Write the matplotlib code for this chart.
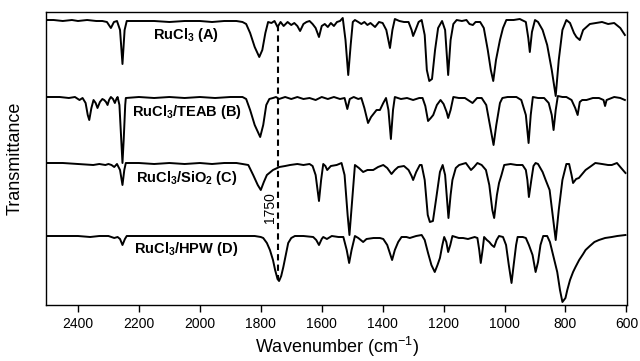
import matplotlib
matplotlib.use("Agg")
import matplotlib.pyplot as plt
import numpy as np

plt.rcParams['font.family'] = ['Liberation Sans', 'DejaVu Sans']
plt.rcParams['mathtext.fontset'] = 'custom'
plt.rcParams['mathtext.rm'] = 'Liberation Sans'
plt.rcParams['mathtext.bf'] = 'Liberation Sans:bold'
plt.rcParams['mathtext.default'] = 'regular'

# Spectra: wavenumber (cm-1) and vertical trace position (larger = lower on chart)
a_wn = [2505, 2480, 2450, 2420, 2400, 2370, 2340, 2320, 2305, 2292, 2282, 2272, 2262, 2254, 2247, 2240,
        2200, 2150, 2100, 2050, 2000, 1960, 1920, 1880, 1860, 1848, 1835, 1820, 1805, 1795, 1785, 1776,
        1765, 1755, 1745, 1735, 1725, 1712, 1700, 1690, 1680, 1671, 1660, 1650, 1640, 1630, 1620, 1609,
        1600, 1590, 1580, 1570, 1560, 1550, 1540, 1531, 1522, 1513, 1505, 1498, 1491, 1480, 1470, 1460,
        1450, 1440, 1425, 1412, 1400, 1388, 1376, 1368, 1360, 1345, 1330, 1315, 1305, 1300, 1292, 1282,
        1272, 1262, 1255, 1247, 1238, 1228, 1218, 1205, 1195, 1185, 1177, 1168, 1157, 1140, 1125, 1115,
        1104, 1095, 1080, 1068, 1055, 1045, 1037, 1028, 1015, 1005, 994, 970, 950, 930, 922, 917, 910,
        900, 890, 875, 860, 845, 832, 822, 810, 797, 785, 772, 764, 753, 742, 731, 720, 700, 680, 660,
        640, 620, 605]
a_y = [20, 20, 21, 20, 21, 20, 21, 21, 22, 28, 22, 21, 30, 64, 30, 21,
       21, 21, 22, 21, 21, 22, 21, 21, 22, 24, 33, 47, 57, 50, 33, 22,
       23, 21, 27, 22, 26, 22, 25, 23, 26, 31, 24, 22, 21, 24, 28, 37,
       26, 24, 27, 23, 26, 22, 21, 18, 40, 75, 45, 22, 20, 22, 24, 22,
       25, 23, 27, 22, 23, 30, 48, 30, 19, 21, 22, 22, 30, 36, 30, 22,
       20, 35, 70, 81, 79, 50, 28, 21, 30, 75, 40, 24, 20, 21, 20, 24,
       25, 22, 22, 28, 50, 70, 81, 60, 40, 28, 20, 20, 19, 22, 38, 52, 32,
       20, 22, 30, 45, 70, 96, 60, 30, 20, 23, 33, 37, 40, 30, 27, 24, 23, 22, 24,
       23, 28, 35]

b_wn = [2505, 2460, 2430, 2410, 2395, 2385, 2375, 2368, 2363, 2356, 2349, 2342, 2336, 2328, 2320, 2314,
        2308, 2303, 2298, 2292, 2285, 2279, 2274, 2270, 2264, 2258, 2254, 2250, 2245, 2243, 2200, 2150,
        2100, 2050, 2000, 1950, 1900, 1860, 1848, 1835, 1820, 1802, 1792, 1782, 1772, 1760, 1750, 1740,
        1720, 1700, 1680, 1660, 1640, 1620, 1600, 1580, 1560, 1540, 1525, 1516, 1508, 1495, 1480, 1470,
        1460, 1448, 1438, 1420, 1409, 1398, 1389, 1381, 1373, 1366, 1360, 1340, 1320, 1300, 1280, 1269,
        1260, 1251, 1242, 1234, 1222, 1210, 1200, 1190, 1185, 1177, 1168, 1150, 1130, 1115, 1105, 1090,
        1075, 1060, 1045, 1036, 1027, 1015, 1007, 990, 961, 945, 930, 921, 914, 907, 890, 870, 855, 845,
        839, 832, 825, 810, 797, 780, 768, 760, 753, 745, 731, 710, 690, 675, 670, 665, 640, 620, 605]
b_y = [97, 97, 98, 97, 100, 98, 103, 115, 120, 108, 100, 103, 108, 102, 99, 100,
       102, 105, 100, 97, 99, 103, 99, 97, 105, 140, 163, 140, 105, 98, 97, 98,
       97, 98, 97, 98, 97, 97, 99, 110, 125, 137, 125, 105, 99, 98, 97, 99,
       97, 99, 97, 99, 98, 100, 97, 99, 97, 99, 98, 109, 99, 97, 99, 98,
       108, 123, 117, 110, 110, 103, 98, 110, 139, 110, 97, 99, 98, 100, 98, 98,
       106, 121, 118, 115, 105, 100, 104, 112, 118, 110, 97, 98, 98, 101, 103, 98,
       98, 105, 130, 145, 125, 103, 98, 97, 97, 100, 115, 143, 115, 97, 98, 98, 103, 115,
       130, 110, 96, 97, 97, 100, 108, 115, 102, 100, 100, 98, 98, 100, 106, 100, 97, 98, 100]

c_wn = [2505, 2450, 2400, 2350, 2330, 2310, 2300, 2290, 2281, 2272, 2262, 2254, 2248, 2243, 2200, 2150,
        2100, 2050, 2000, 1960, 1920, 1880, 1860, 1841, 1825, 1810, 1800, 1790, 1780, 1760, 1739, 1720,
        1704, 1680, 1660, 1640, 1630, 1620, 1609, 1602, 1595, 1588, 1582, 1570, 1551, 1535, 1525, 1515,
        1509, 1500, 1491, 1478, 1464, 1450, 1431, 1415, 1398, 1385, 1371, 1360, 1349, 1330, 1315, 1305,
        1300, 1290, 1278, 1272, 1262, 1252, 1245, 1235, 1225, 1212, 1203, 1195, 1184, 1177, 1171, 1160,
        1149, 1127, 1110, 1100, 1089, 1075, 1061, 1050, 1040, 1034, 1025, 1018, 1010, 1001, 980, 960,
        941, 930, 925, 920, 912, 905, 898, 890, 875, 865, 852, 840, 832, 822, 810, 797, 788, 780, 775,
        765, 756, 745, 734, 720, 702, 680, 660, 648, 631, 620, 603]
c_y = [163, 163, 164, 165, 164, 165, 164, 165, 167, 164, 170, 185, 170, 163, 163, 164,
       163, 164, 163, 164, 163, 163, 164, 165, 175, 185, 190, 182, 175, 170, 167, 166,
       165, 164, 165, 164, 166, 175, 201, 180, 164, 166, 170, 166, 165, 163, 175, 215,
       235, 200, 165, 168, 172, 170, 170, 167, 165, 168, 174, 170, 167, 166, 170, 176,
       180, 172, 165, 165, 180, 215, 222, 221, 200, 172, 165, 175, 218, 195, 180, 168,
       165, 163, 170, 167, 163, 165, 170, 185, 210, 218, 195, 183, 175, 165, 164, 165,
       165, 170, 180, 197, 180, 166, 163, 164, 172, 180, 190, 220, 240, 210, 180, 164, 164, 175, 183,
       179, 178, 174, 170, 167, 163, 164, 165, 165, 163, 167, 173]

d_wn = [2505, 2450, 2400, 2360, 2330, 2300, 2281, 2270, 2262, 2254, 2246, 2240, 2200, 2100, 2000, 1900,
        1820, 1800, 1792, 1780, 1770, 1760, 1753, 1745, 1740, 1733, 1726, 1718, 1710, 1700, 1688, 1660,
        1628, 1618, 1609, 1600, 1595, 1583, 1567, 1545, 1529, 1518, 1510, 1502, 1491, 1480, 1464, 1453,
        1430, 1409, 1398, 1385, 1369, 1360, 1349, 1338, 1322, 1311, 1290, 1272, 1262, 1251, 1240, 1229,
        1220, 1212, 1204, 1198, 1191, 1185, 1178, 1171, 1150, 1136, 1120, 1098, 1089, 1083, 1078, 1072,
        1067, 1058, 1050, 1042, 1034, 1026, 1018, 1005, 995, 986, 977, 970, 962, 957, 940, 930, 920,
        908, 898, 890, 882, 873, 860, 851, 843, 835, 827, 818, 810, 800, 794, 785, 775, 767, 755, 742,
        734, 720, 705, 690, 670, 648, 630, 603]
d_y = [236, 236, 236, 237, 236, 236, 238, 237, 239, 245, 239, 236, 236, 236, 236, 236,
       236, 237, 238, 243, 250, 260, 270, 279, 281, 276, 267, 255, 243, 238, 236, 236,
       237, 240, 245, 239, 237, 239, 236, 237, 237, 250, 263, 250, 236, 238, 242, 239,
       238, 238, 239, 245, 260, 250, 242, 237, 237, 238, 236, 235, 240, 253, 265, 272,
       265, 258, 245, 237, 242, 252, 245, 236, 238, 238, 239, 237, 238, 250, 263, 250,
       237, 240, 242, 245, 247, 240, 236, 237, 245, 265, 283, 265, 245, 237, 237, 238, 245,
       255, 272, 262, 245, 236, 236, 242, 252, 262, 272, 290, 302, 298, 290, 280, 272, 267, 260, 254,
       250, 246, 242, 240, 238, 237, 236, 235]

labels = ["RuCl$_3$ (A)", "RuCl$_3$/TEAB (B)", "RuCl$_3$/SiO$_2$ (C)", "RuCl$_3$/HPW (D)"]
label_wn = [2153, 2223, 2209, 2215]
label_y = [35, 112, 178, 249]

xticks = [2400, 2200, 2000, 1800, 1600, 1400, 1200, 1000, 800, 600]
marker_wn = 1742
marker_text = "1750"

fig = plt.figure(figsize=(6.4, 3.61), dpi=100)
ax = fig.add_axes([46/640, 56/361, 581/640, 293/361])

for wn, y in [(a_wn, a_y), (b_wn, b_y), (c_wn, c_y), (d_wn, d_y)]:
    ax.plot(wn, y, color='black', lw=1.4)

for t, xw, yy in zip(labels, label_wn, label_y):
    ax.text(xw, yy, t, fontsize=10.5, fontweight='bold', ha='left', va='center')

ax.plot([marker_wn, marker_wn], [25, 280], color='black', lw=1.5, ls=(0, (3, 2)))
ax.text(1769, 208, marker_text, rotation=90, fontsize=10, ha='center', va='center')

ax.set_xlim(2505, 598)
ax.set_ylim(305, 12)
ax.set_xticks(xticks)
ax.set_xticklabels([str(v) for v in xticks], fontsize=10)
ax.set_yticks([])
ax.tick_params(axis='x', direction='out', length=5, width=1)
ax.set_xlabel("Wavenumber (cm$^{-1}$)", fontsize=13, labelpad=3)
ax.set_ylabel("Transmittance", fontsize=13, labelpad=16)
for s in ax.spines.values():
    s.set_linewidth(1.0)

fig.savefig("out.png", dpi=100)
